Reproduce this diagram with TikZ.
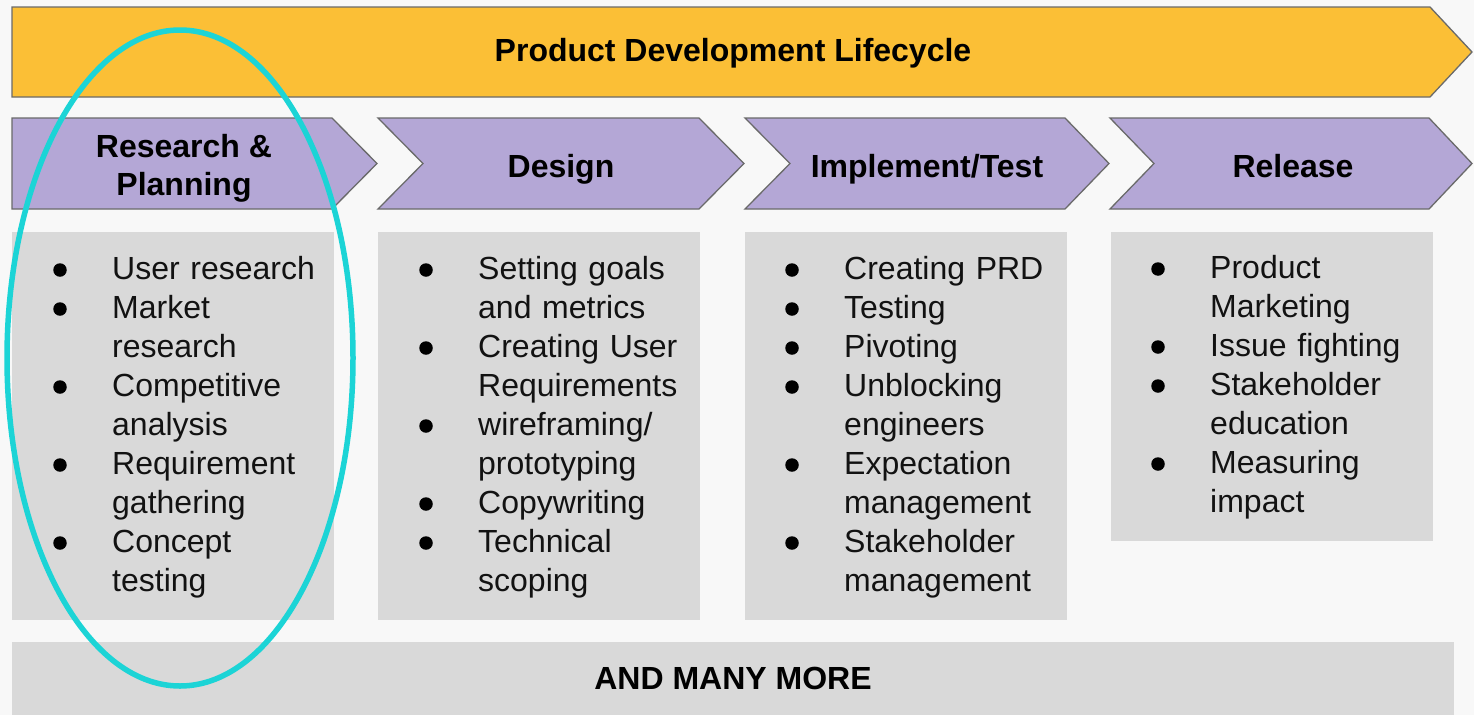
\documentclass[tikz,border=0pt]{standalone}
\usepackage{fontspec}
\setmainfont{Liberation Sans}
\usetikzlibrary{shapes.geometric}
\definecolor{ylw}{HTML}{FBBF36}
\definecolor{prp}{HTML}{B4A7D6}
\definecolor{gry}{HTML}{D9D9D9}
\definecolor{edgegray}{HTML}{6A6A6A}
\definecolor{hilite}{HTML}{1CD4D6}
\definecolor{bgc}{HTML}{F8F8F8}
\newcommand\itm[4]{%
  \node[bul] (#1b) at (#2,#3-9) {};
  \node[itemtxt] (#1) at (#2+52,#3) {#4};}
\begin{document}
\begin{tikzpicture}[x=1pt,y=-1pt,
  banner/.style={fill=ylw,draw=edgegray,line width=1.3pt,line join=miter},
  phase/.style={fill=prp,draw=edgegray,line width=1.3pt,line join=miter},
  panel/.style={fill=gry},
  headtxt/.style={font=\bfseries\fontsize{32}{38}\selectfont,inner sep=0,anchor=base,align=center,text=black},
  itemtxt/.style={font=\fontsize{32}{39}\selectfont,inner sep=0,anchor=base west,text width=300pt,align=left,text=black!93},
  bul/.style={circle,fill=black,inner sep=0,minimum size=13.5pt},
  ring/.style={ellipse,draw=hilite,line width=5.5pt,inner sep=0,minimum width=346pt,minimum height=656pt}
]
\fill[bgc] (0,0) rectangle (1474,715);
\useasboundingbox (0,0) rectangle (1474,715);

% top banner
\draw[banner] (12,7) -- (1430,7) -- (1472,52) -- (1430,97) -- (12,97) -- cycle;
\node[headtxt] (title) at (733,61) {Product Development Lifecycle};

% phase chevrons
\draw[phase] (12,118) -- (332,118) -- (377,163.5) -- (332,209) -- (12,209) -- cycle;
\draw[phase] (378,118) -- (699,118) -- (744,163.5) -- (699,209) -- (378,209) -- (423,163.5) -- cycle;
\draw[phase] (745,118) -- (1065,118) -- (1109,163.5) -- (1065,209) -- (745,209) -- (790,163.5) -- cycle;
\draw[phase] (1110,118) -- (1429,118) -- (1472,163.5) -- (1429,209) -- (1110,209) -- (1154,163.5) -- cycle;
\node[headtxt] (h1) at (184,195) {Research \&\\Planning};
\node[headtxt] (h2) at (561,177) {Design};
\node[headtxt] (h3) at (927,177) {Implement/Test};
\node[headtxt] (h4) at (1293,177) {Release};

% panels
\fill[panel] (12,232) rectangle (334,620);
\fill[panel] (378,232) rectangle (700,620);
\fill[panel] (745,232) rectangle (1067,620);
\fill[panel] (1111,232) rectangle (1433,541);
\fill[panel] (12,642) rectangle (1454,715);
\node[headtxt] (more) at (733,689) {AND MANY MORE};

% column 1
\itm{a1}{60}{279}{User research}
\itm{a2}{60}{318}{Market\\research}
\itm{a3}{60}{396}{Competitive\\analysis}
\itm{a4}{60}{474}{Requirement\\gathering}
\itm{a5}{60}{552}{Concept\\testing}
% column 2
\itm{b1}{426}{279}{Setting goals\\and metrics}
\itm{b2}{426}{357}{Creating User\\Requirements}
\itm{b3}{426}{435}{wireframing/\\prototyping}
\itm{b4}{426}{513}{Copywriting}
\itm{b5}{426}{552}{Technical\\scoping}
% column 3
\itm{c1}{792}{279}{Creating PRD}
\itm{c2}{792}{318}{Testing}
\itm{c3}{792}{357}{Pivoting}
\itm{c4}{792}{396}{Unblocking\\engineers}
\itm{c5}{792}{474}{Expectation\\management}
\itm{c6}{792}{552}{Stakeholder\\management}
% column 4
\itm{d1}{1158}{278}{Product\\Marketing}
\itm{d2}{1158}{356}{Issue fighting}
\itm{d3}{1158}{395}{Stakeholder\\education}
\itm{d4}{1158}{473}{Measuring\\impact}

% highlight ring
\node[ring] (ring) at (180,358) {};
\end{tikzpicture}
\end{document}
